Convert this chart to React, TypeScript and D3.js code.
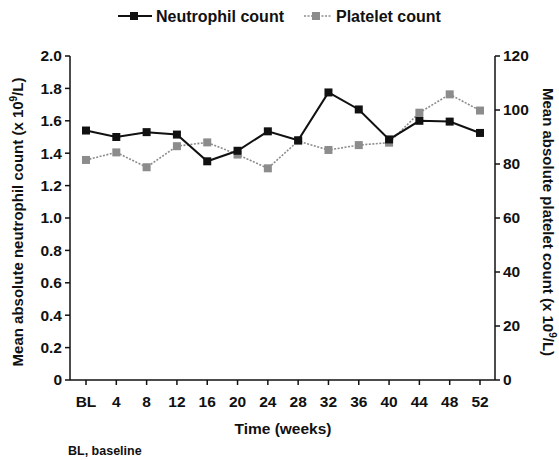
import React from "react";
import * as d3 from "d3";

const categories = ["BL", "4", "8", "12", "16", "20", "24", "28", "32", "36", "40", "44", "48", "52"];
const neutrophil = [1.54, 1.5, 1.53, 1.515, 1.35, 1.415, 1.535, 1.48, 1.775, 1.67, 1.485, 1.6, 1.595, 1.525];
const platelet = [81.5, 84.3, 78.8, 86.6, 88.0, 83.5, 78.4, 88.5, 85.2, 87.0, 87.9, 99.0, 105.8, 99.8];
const leftTicks = [0, 0.2, 0.4, 0.6, 0.8, 1.0, 1.2, 1.4, 1.6, 1.8, 2.0];
const rightTicks = [0, 20, 40, 60, 80, 100, 120];

const W = 559;
const H = 460;
const FONT = "'Liberation Sans', Arial, Helvetica, sans-serif";

export default function App() {
  const x0 = 70, x1 = 495, yTop = 56, yBot = 380;
  const x = d3.scalePoint<string>().domain(categories).range([86, 480]);
  const yL = d3.scaleLinear().domain([0, 2]).range([yBot, yTop]);
  const yR = d3.scaleLinear().domain([0, 120]).range([yBot, yTop]);

  const lineN = d3.line<number>().x((_, i) => x(categories[i])!).y((d) => yL(d));
  const lineP = d3.line<number>().x((_, i) => x(categories[i])!).y((d) => yR(d));

  const ms = 8;
  const black = "#111";
  const gray = "#8c8c8c";

  return (
    <svg width={W} height={H} style={{ position: "absolute", left: 0, top: 0, background: "#fff" }} fontFamily={FONT} fontWeight="bold">
      <rect x={0} y={0} width={W} height={H} fill="#fff" />
      {/* Legend */}
      <g>
        <line x1={118} x2={152} y1={16} y2={16} stroke={black} strokeWidth={2} />
        <rect x={134 - 4} y={16 - 4} width={8} height={8} fill={black} />
        <text x={156} y={21.5} fontSize={16} fill={black}>Neutrophil count</text>
        <line x1={304} x2={332} y1={16} y2={16} stroke={gray} strokeWidth={1.5} strokeDasharray="2,1.5" />
        <rect x={316 - 4} y={16 - 4} width={8} height={8} fill={gray} />
        <text x={336} y={21.5} fontSize={16} fill={black}>Platelet count</text>
      </g>

      {/* Axes */}
      <g stroke={black} strokeWidth={1.5} fill="none">
        <line x1={x0} x2={x0} y1={yTop} y2={yBot} />
        <line x1={x1} x2={x1} y1={yTop} y2={yBot} />
        <line x1={x0} x2={x1} y1={yBot} y2={yBot} />
        {leftTicks.map((t) => (
          <line key={"lt" + t} x1={x0 - 5} x2={x0} y1={yL(t)} y2={yL(t)} />
        ))}
        {rightTicks.map((t) => (
          <line key={"rt" + t} x1={x1} x2={x1 + 5} y1={yR(t)} y2={yR(t)} />
        ))}
        {categories.map((c) => (
          <line key={"xt" + c} x1={x(c)!} x2={x(c)!} y1={yBot} y2={yBot + 5} />
        ))}
      </g>
      <g fontSize={15.5} fill={black}>
        {leftTicks.map((t) => (
          <text key={"ll" + t} x={x0 - 8} y={yL(t)} dy="0.35em" textAnchor="end">
            {t === 0 ? "0" : d3.format(".1f")(t)}
          </text>
        ))}
        {rightTicks.map((t) => (
          <text key={"rl" + t} x={x1 + 8} y={yR(t)} dy="0.35em" textAnchor="start">
            {t}
          </text>
        ))}
        {categories.map((c) => (
          <text key={"xl" + c} x={x(c)!} y={yBot + 22} dy="0.35em" textAnchor="middle">
            {c}
          </text>
        ))}
      </g>

      {/* Axis titles */}
      <text x={283} y={434} fontSize={15.5} textAnchor="middle" fill={black}>Time (weeks)</text>
      <text transform={`translate(23, ${(yTop + yBot) / 2 + 4}) rotate(-90)`} fontSize={15} textAnchor="middle" fill={black}>
        Mean absolute neutrophil count (x 10<tspan fontSize={10} dy={-6}>9</tspan><tspan dy={6}>/L)</tspan>
      </text>
      <text transform={`translate(543, ${(yTop + yBot) / 2 + 4}) rotate(90)`} fontSize={15} textAnchor="middle" fill={black}>
        Mean absolute platelet count (x 10<tspan fontSize={10} dy={-6}>9</tspan><tspan dy={6}>/L)</tspan>
      </text>
      <text x={68} y={455} fontSize={12.5} fill={black}>BL, baseline</text>

      {/* Series */}
      <path d={lineP(platelet)!} fill="none" stroke={gray} strokeWidth={1.6} strokeDasharray="2,1.5" />
      {platelet.map((v, i) => (
        <rect key={"p" + i} x={x(categories[i])! - ms / 2} y={yR(v) - ms / 2} width={ms} height={ms} fill={gray} />
      ))}
      <path d={lineN(neutrophil)!} fill="none" stroke={black} strokeWidth={2} />
      {neutrophil.map((v, i) => (
        <rect key={"n" + i} x={x(categories[i])! - ms / 2} y={yL(v) - ms / 2} width={ms} height={ms} fill={black} />
      ))}
    </svg>
  );
}
